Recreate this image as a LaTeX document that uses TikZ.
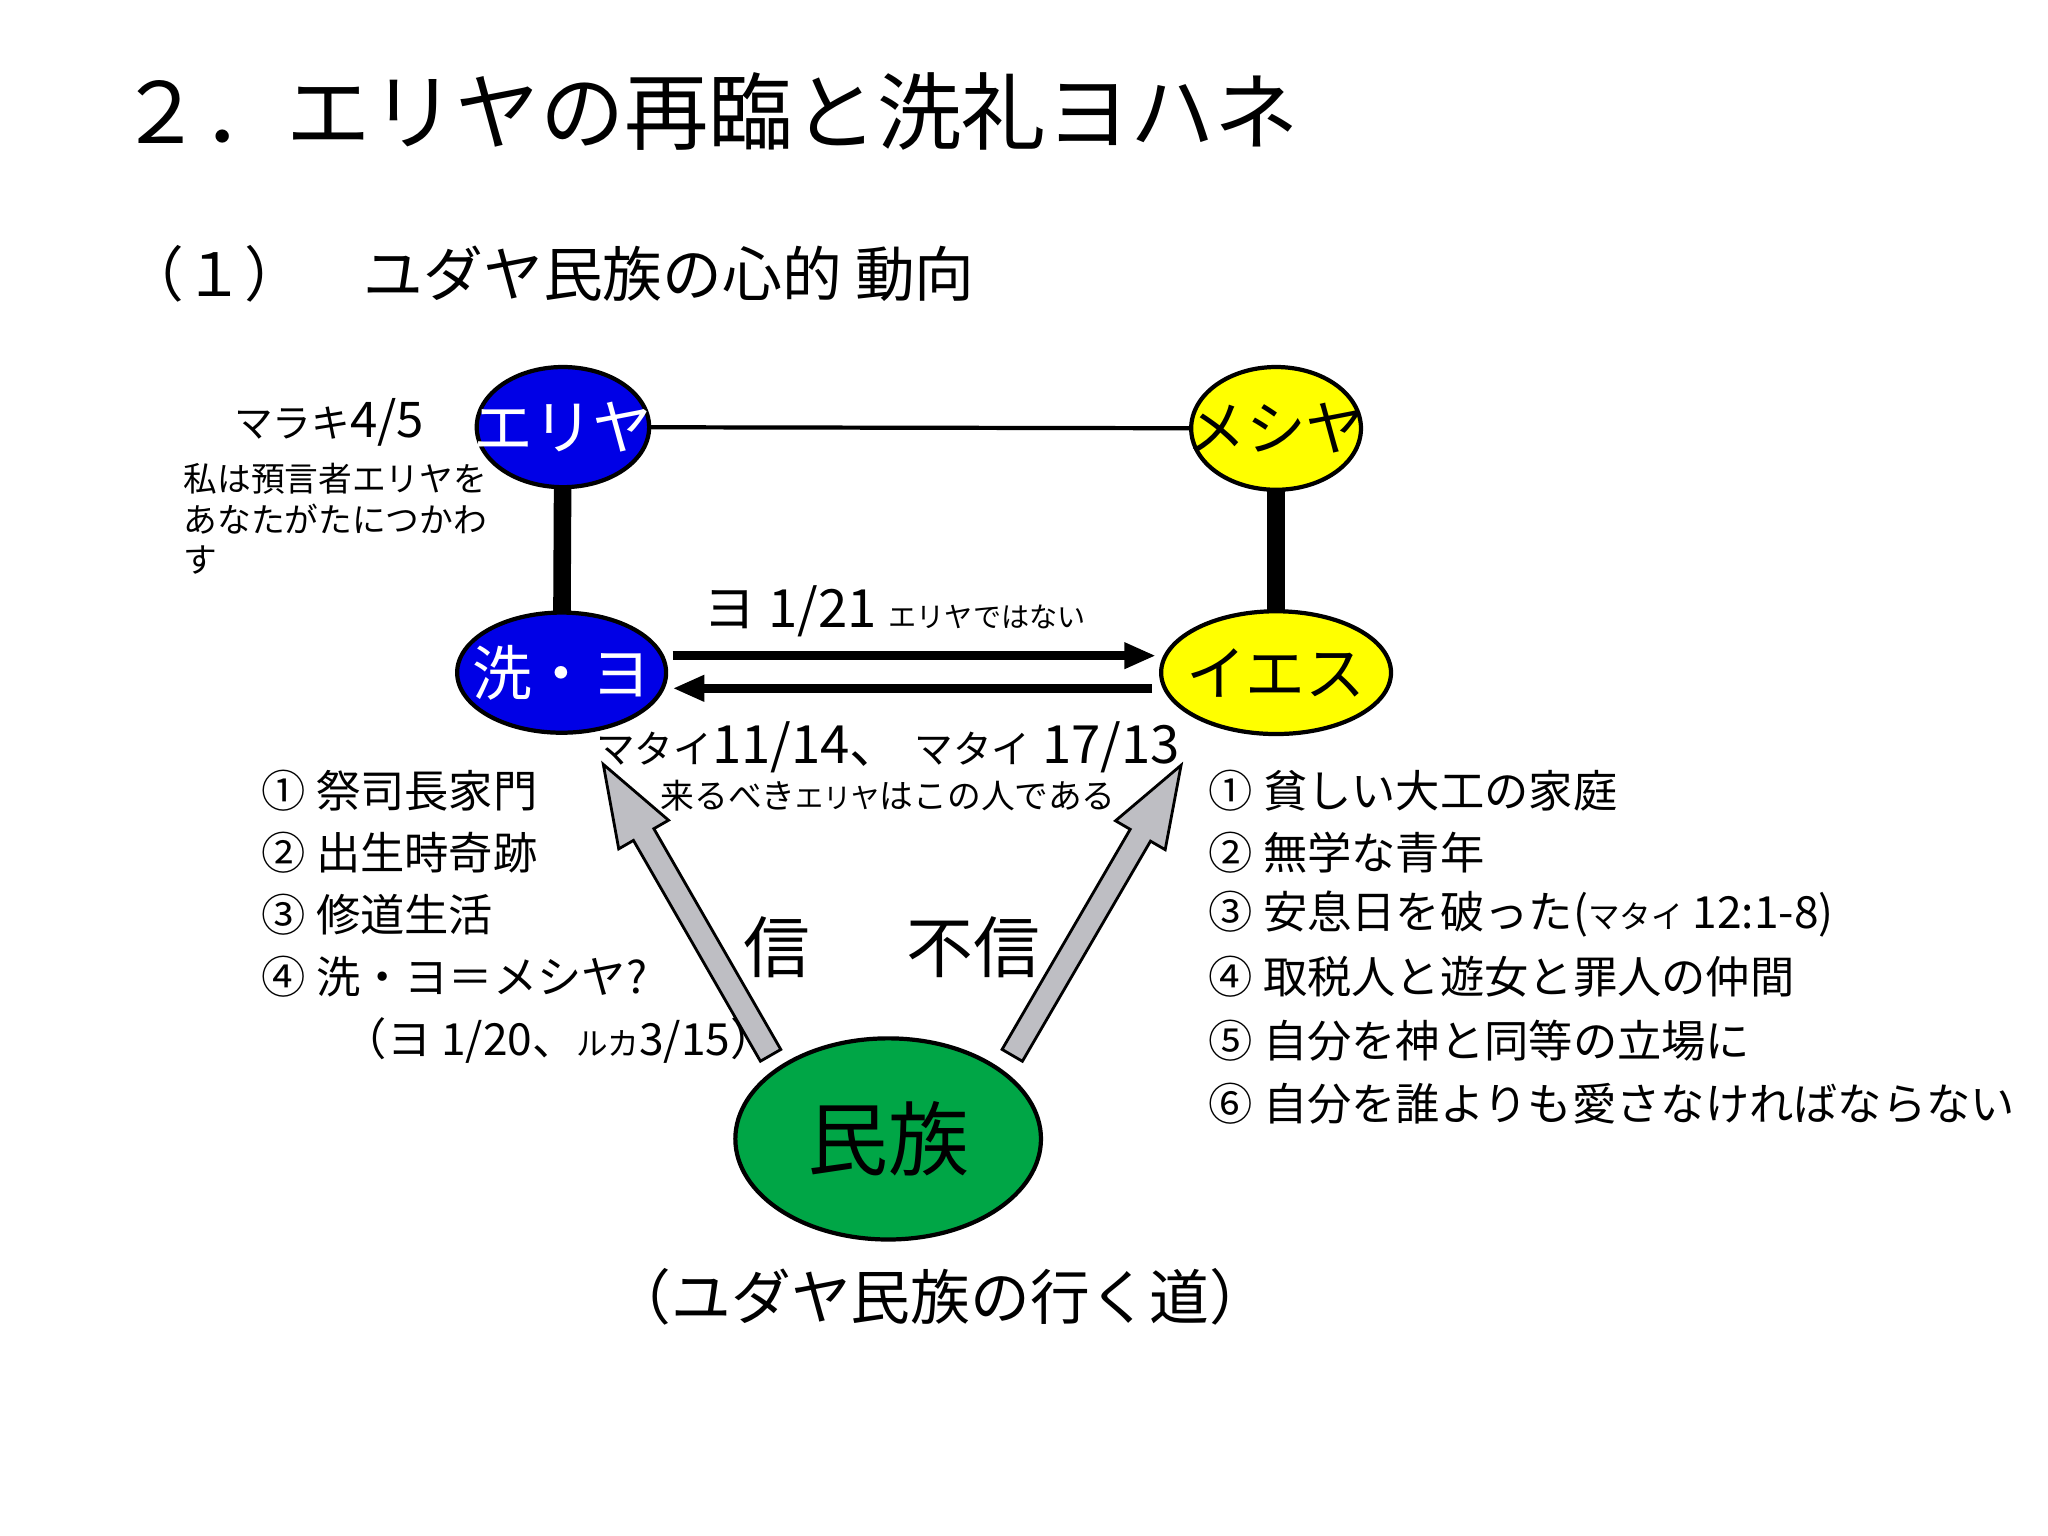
\documentclass[tikz,border=0pt]{standalone}
\usepackage{fontspec}
\setmainfont{Noto Sans CJK JP}
\newfontfamily\lat{Liberation Sans}
\usetikzlibrary{arrows.meta}
\definecolor{eblue}{RGB}{0,0,230}
\definecolor{eyel}{RGB}{255,255,0}
\definecolor{egreen}{RGB}{0,166,70}
\definecolor{egray}{RGB}{190,190,195}
\newcommand{\fs}[1]{\fontsize{#1}{#1}\selectfont}
\begin{document}
\begin{tikzpicture}[x=0.01306cm,y=-0.01306cm,
  ell/.style={draw=black,line width=1.2pt,ellipse,inner sep=0pt},
  lst/.style={anchor=west,inner sep=0pt,font=\fs{12.6pt}},
  fat/.style={fill=egray,draw=black,line width=0.8pt}]
\useasboundingbox (0,0) rectangle (1568,1176);
\fill[white] (0,0) rectangle (1568,1176);
\node[anchor=west,inner sep=0pt,font=\fs{24pt}] (title) at (90,85) {２．エリヤの再臨と洗礼ヨハネ};
\node[anchor=west,inner sep=0pt,font=\fs{17pt}] (sub) at (95,210) {（１）　ユダヤ民族の心的 動向};
\coordinate (c1) at (431,327); \coordinate (c2) at (977,328);
\coordinate (c3) at (430,515); \coordinate (c4) at (977,515);
\draw[line width=1.2pt] (c1) -- (c2);
\draw[line width=5pt] (c1) -- (c3);
\draw[line width=5pt] (c2) -- (c4);
\fill[eblue,draw=black,line width=1.2pt] (c1) ellipse [x radius=66,y radius=46];
\fill[eyel,draw=black,line width=1.2pt] (c2) ellipse [x radius=65,y radius=47];
\fill[eblue,draw=black,line width=1.2pt] (c3) ellipse [x radius=80,y radius=46];
\fill[eyel,draw=black,line width=1.2pt] (c4) ellipse [x radius=88,y radius=47];
\fill[egreen,draw=black,line width=1.2pt] (680,872) ellipse [x radius=117,y radius=77];
\node[text=white,font=\fs{17pt}] (eliya) at (c1) {エリヤ};
\node[font=\fs{17pt}] (mesiya) at (c2) {メシヤ};
\node[text=white,font=\fs{17pt}] (senyo) at (c3) {洗・ヨ};
\node[font=\fs{17pt}] (iesu) at (c4) {イエス};
\node[font=\fs{23pt}] (minzoku) at (680,872) {民族};
\coordinate (a1) at (515,502); \coordinate (a2) at (885,502);
\coordinate (b1) at (882,527); \coordinate (b2) at (515,527);
\draw[line width=2.5pt,-{Triangle[length=9pt,width=7pt]}] (a1) -- (a2);
\draw[line width=2.5pt,-{Triangle[length=9pt,width=7pt]}] (b1) -- (b2);
\begin{scope}[shift={(590,808)},rotate=119.9]
\draw[fat] (0,-9)--(195,-9)--(195,-22)--(257,0)--(195,22)--(195,9)--(0,9)--cycle;
\end{scope}
\begin{scope}[shift={(775,808)},rotate=59.8]
\draw[fat] (0,-9)--(195,-9)--(195,-22)--(257,0)--(195,22)--(195,9)--(0,9)--cycle;
\end{scope}
\node[font=\fs{14pt}] (mal) at (252,323) {{\fs{11pt}マラキ}4/5};
\node[anchor=north west,inner sep=0pt,align=left,font=\fs{9.6pt},text depth=0pt] (mal2) at (140,354) {私は預言者エリヤを\\[2pt]あなたがたにつかわ\\[2pt]す};
\node[font=\fs{15pt}] (yo) at (685,468) {ヨ 1/21 {\fs{8pt}エリヤではない}};
\node[font=\fs{15pt}] (mat) at (680,572) {{\fs{11pt}マタイ}11/14、 {\fs{11pt}マタイ} 17/13};
\node[font=\fs{9.6pt}] (kuru) at (680,609) {来るべき{\fs{8pt}エリヤ}はこの人である};
\node[lst] (l1) at (200,605) {① 祭司長家門};
\node[lst] (l2) at (200,653) {② 出生時奇跡};
\node[lst] (l3) at (200,700) {③ 修道生活};
\node[lst] (l4) at (200,748) {④ 洗・ヨ＝メシヤ?};
\node[lst] (l5) at (262,797) {（ヨ 1/20、{\fs{9pt}ルカ}3/15）};
\node[lst] (r1) at (925,605) {① 貧しい大工の家庭};
\node[lst] (r2) at (925,653) {② 無学な青年};
\node[lst] (r3) at (925,700) {③ 安息日を破った({\fs{9pt}マタイ} 12:1-8)};
\node[lst] (r4) at (925,748) {④ 取税人と遊女と罪人の仲間};
\node[lst] (r5) at (925,797) {⑤ 自分を神と同等の立場に};
\node[lst] (r6) at (925,845) {⑥ 自分を誰よりも愛さなければならない};
\node[font=\fs{19pt}] (shin) at (595,725) {信};
\node[font=\fs{19pt}] (fushin) at (745,725) {不信};
\node[font=\fs{17pt}] (michi) at (720,993) {（ユダヤ民族の行く道）};
\end{tikzpicture}
\end{document}
